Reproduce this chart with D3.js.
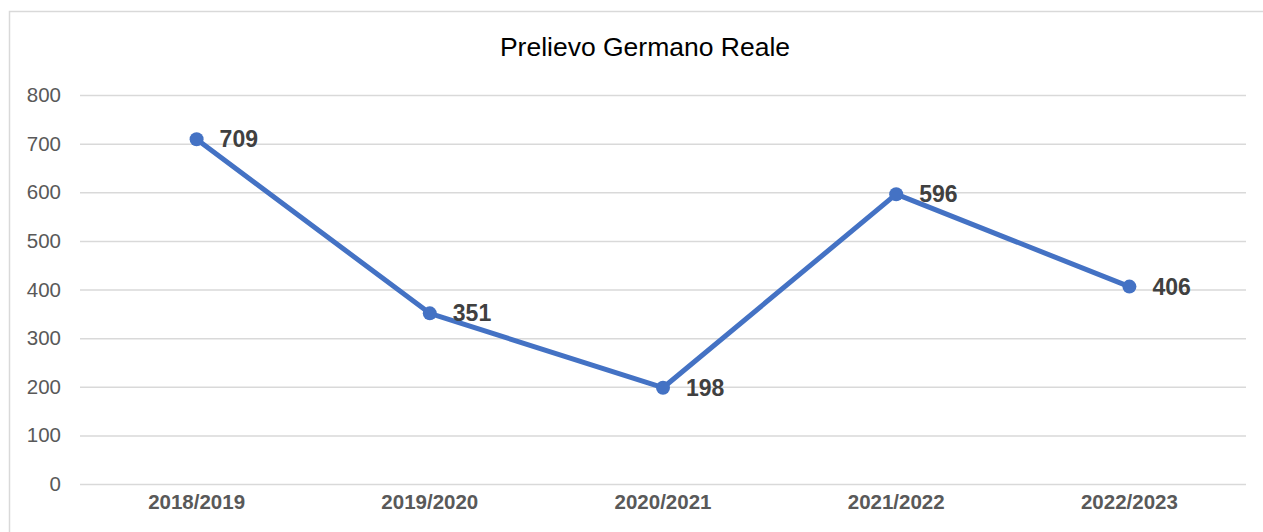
<!DOCTYPE html>
<meta charset='utf-8'>
<style>
body { margin: 0; background: #fff; }
svg { display: block; }
text { font-family: 'Liberation Sans', Arial, sans-serif; }
</style>
<svg id='chart'></svg>
<script src="https://d3js.org/d3.v7.min.js"></script>
<script>
const seasons = ['2018/2019', '2019/2020', '2020/2021', '2021/2022', '2022/2023'];
const harvest = [709, 351, 198, 596, 406];
const yTicks = [0, 100, 200, 300, 400, 500, 600, 700, 800];

const width = 1263, height = 532;
const plotLeft = 80, plotRight = 1246, plotTop = 95, plotBottom = 484;

const svg = d3.select('#chart')
  .attr('width', width)
  .attr('height', height);

// chart frame
svg.append('rect')
  .attr('x', 9.5).attr('y', 11.5)
  .attr('width', 1300).attr('height', 600)
  .attr('fill', '#fff')
  .attr('stroke', '#d9d9d9')
  .attr('stroke-width', 1.5);

const x = d3.scaleBand().domain(seasons).range([plotLeft, plotRight]);
const y = d3.scaleLinear().domain([0, 800]).range([plotBottom, plotTop]);

svg.append('text')
  .attr('x', 645).attr('y', 56)
  .attr('text-anchor', 'middle')
  .attr('font-size', 26.5)
  .attr('fill', '#000')
  .text('Prelievo Germano Reale');

// gridlines + y labels
const yAxis = svg.append('g')
  .attr('transform', `translate(${plotLeft},0)`)
  .call(d3.axisLeft(y).tickValues(yTicks).tickSize(-(plotRight - plotLeft)).tickPadding(19));
yAxis.select('.domain').remove();
yAxis.selectAll('line').attr('stroke', '#d9d9d9').attr('stroke-width', 1.5);
yAxis.selectAll('text')
  .attr('font-size', 20.5)
  .attr('fill', '#595959')
  .attr('font-family', "'Liberation Sans', Arial, sans-serif");

// x labels
const xAxis = svg.append('g')
  .attr('transform', `translate(0,${plotBottom})`)
  .call(d3.axisBottom(x).tickSize(0).tickPadding(10.5));
xAxis.select('.domain').remove();
xAxis.selectAll('text')
  .attr('font-size', 20.5)
  .attr('font-weight', 'bold')
  .attr('fill', '#595959')
  .attr('font-family', "'Liberation Sans', Arial, sans-serif");

const cx = d => x(d) + x.bandwidth() / 2;
const line = d3.line()
  .x((d, i) => cx(seasons[i]))
  .y(d => y(d));

svg.append('path')
  .datum(harvest)
  .attr('d', line)
  .attr('fill', 'none')
  .attr('stroke', '#4472c4')
  .attr('stroke-width', 5)
  .attr('stroke-linejoin', 'round');

svg.selectAll('circle.pt')
  .data(harvest)
  .join('circle')
  .attr('class', 'pt')
  .attr('cx', (d, i) => cx(seasons[i]))
  .attr('cy', d => y(d))
  .attr('r', 7)
  .attr('fill', '#4472c4');

svg.selectAll('text.lbl')
  .data(harvest)
  .join('text')
  .attr('class', 'lbl')
  .attr('x', (d, i) => cx(seasons[i]) + 23)
  .attr('y', d => y(d) + 8)
  .attr('font-size', 23)
  .attr('font-weight', 'bold')
  .attr('fill', '#404040')
  .text(d => d);
</script>
